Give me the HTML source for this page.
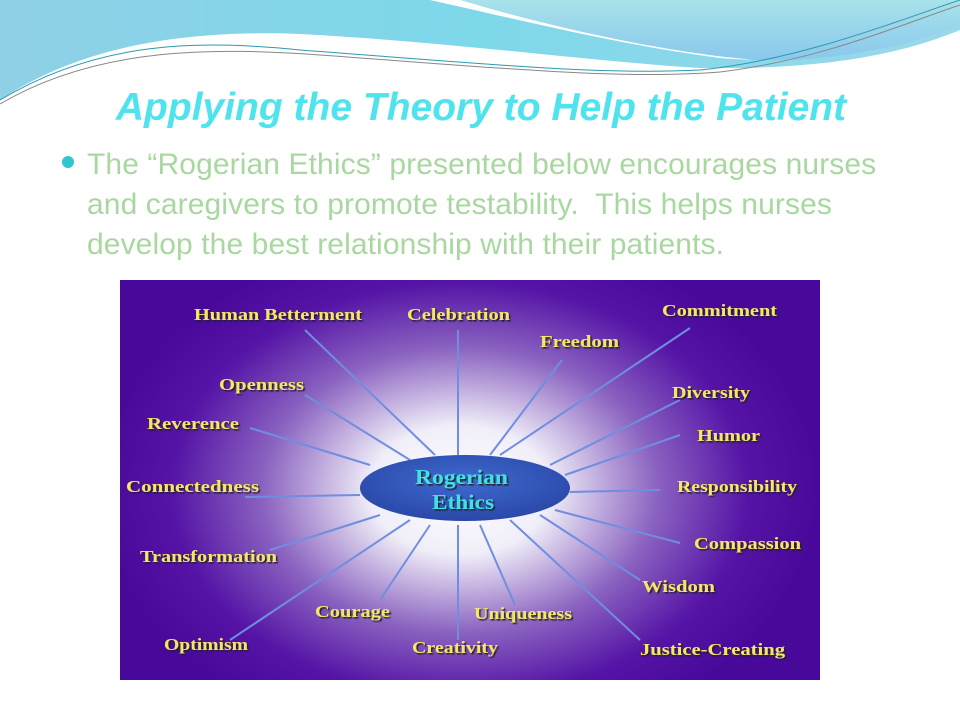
<!DOCTYPE html>
<html><head><meta charset="utf-8"><style>
body{margin:0;width:960px;height:720px;background:#fff;position:relative;overflow:hidden;font-family:"Liberation Sans",sans-serif}
.t{position:absolute;left:0;width:962px;top:86px;text-align:center;color:#4fe3ee;font-size:39px;font-weight:bold;font-style:italic}
.b{position:absolute;left:87px;top:145px;color:#a8d8a0;font-size:30px;line-height:40px;width:800px;letter-spacing:0.1px}
.dot{position:absolute;left:62px;top:156px;width:12px;height:12px;border-radius:50%;background:#2ec6cf}
</style></head><body>
<svg width="960" height="110" style="position:absolute;left:0;top:0">
<defs><linearGradient id="g1" x1="0" y1="0" x2="1" y2="0"><stop offset="0" stop-color="#8fd0e6"/><stop offset=".5" stop-color="#7dd8ea"/><stop offset="1" stop-color="#9ad8ea"/></linearGradient>
<linearGradient id="g2" x1="0" y1="0" x2="0" y2="1"><stop offset="0" stop-color="#a8e2ea"/><stop offset="1" stop-color="#8ac8ec"/></linearGradient></defs>
<path d="M0,0 H960 V30 C900,55 820,70 700,68 C600,62 450,42 300,34 C150,28 60,60 0,100 Z" fill="url(#g1)"/>
<path d="M230,0 H960 V20 C900,45 800,65 720,58 C620,45 520,20 430,0Z" fill="#fff"/>
<path d="M250,0 H960 V25 C900,50 820,62 760,60 C680,55 560,30 460,0Z" fill="url(#g2)"/>
<path d="M0,100 C100,40 200,40 300,50 C500,65 600,75 700,70 C800,60 900,20 960,0" fill="none" stroke="#2a9ab0" stroke-width="1"/>
<path d="M0,104 C100,45 220,48 320,55 C500,68 620,80 720,72 C820,60 900,25 960,5" fill="none" stroke="#888" stroke-width="1"/>
</svg>
<div class="t">Applying the Theory to Help the Patient</div>
<div class="dot"></div>
<div class="b">The “Rogerian Ethics” presented below encourages nurses and caregivers to promote testability.&nbsp; This helps nurses develop the best relationship with their patients.</div>
<svg width="700" height="400" style="position:absolute;left:120px;top:280px" viewBox="120 280 700 400">
<defs><radialGradient id="rg" cx="460" cy="490" r="360" gradientUnits="userSpaceOnUse" gradientTransform="translate(460 490) scale(1 .72) translate(-460 -490)">
<stop offset="0" stop-color="#ffffff"/><stop offset=".25" stop-color="#f0eef8"/><stop offset=".55" stop-color="#8a62c0"/><stop offset=".8" stop-color="#5514a6"/><stop offset="1" stop-color="#48089a"/></radialGradient>
<radialGradient id="eg" cx=".5" cy=".4" r=".6"><stop offset="0" stop-color="#3f6ad0"/><stop offset="1" stop-color="#2a48a8"/></radialGradient>
<filter id="sh"><feDropShadow dx="1.5" dy="1.5" stdDeviation="0.5" flood-color="#222"/></filter></defs>
<rect x="120" y="280" width="700" height="400" fill="url(#rg)"/>
<g stroke="#6f8ee0" stroke-width="2">
<line x1="305" y1="330" x2="435" y2="455"/><line x1="458" y1="330" x2="458" y2="455"/>
<line x1="562" y1="360" x2="490" y2="455"/><line x1="690" y1="328" x2="500" y2="455"/>
<line x1="680" y1="400" x2="550" y2="465"/><line x1="680" y1="435" x2="565" y2="475"/>
<line x1="660" y1="490" x2="570" y2="492"/><line x1="680" y1="543" x2="555" y2="510"/>
<line x1="640" y1="580" x2="540" y2="515"/><line x1="640" y1="640" x2="510" y2="520"/>
<line x1="515" y1="605" x2="480" y2="525"/><line x1="458" y1="640" x2="458" y2="525"/>
<line x1="380" y1="600" x2="430" y2="525"/><line x1="230" y1="640" x2="410" y2="520"/>
<line x1="270" y1="550" x2="380" y2="515"/><line x1="245" y1="497" x2="360" y2="495"/>
<line x1="250" y1="428" x2="370" y2="465"/><line x1="305" y1="395" x2="410" y2="460"/>
</g>
<ellipse cx="465" cy="488" rx="105" ry="33" fill="url(#eg)"/>
<g font-family="Liberation Serif,serif" font-weight="bold" font-size="21" fill="#3fe0e8" filter="url(#sh)" lengthAdjust="spacingAndGlyphs">
<text x="415" y="484" textLength="93" lengthAdjust="spacingAndGlyphs">Rogerian</text><text x="432" y="509" textLength="62" lengthAdjust="spacingAndGlyphs">Ethics</text></g>
<g font-family="Liberation Serif,serif" font-weight="bold" font-size="17" fill="#f4e66a" filter="url(#sh)">
<text x="194" y="320" textLength="168" lengthAdjust="spacingAndGlyphs">Human Betterment</text><text x="407" y="320" textLength="103" lengthAdjust="spacingAndGlyphs">Celebration</text>
<text x="662" y="316" textLength="115" lengthAdjust="spacingAndGlyphs">Commitment</text><text x="540" y="347" textLength="79" lengthAdjust="spacingAndGlyphs">Freedom</text>
<text x="219" y="390" textLength="85" lengthAdjust="spacingAndGlyphs">Openness</text><text x="672" y="398" textLength="78" lengthAdjust="spacingAndGlyphs">Diversity</text>
<text x="147" y="429" textLength="92" lengthAdjust="spacingAndGlyphs">Reverence</text><text x="697" y="441" textLength="63" lengthAdjust="spacingAndGlyphs">Humor</text>
<text x="126" y="492" textLength="133" lengthAdjust="spacingAndGlyphs">Connectedness</text><text x="677" y="492" textLength="120" lengthAdjust="spacingAndGlyphs">Responsibility</text>
<text x="694" y="549" textLength="107" lengthAdjust="spacingAndGlyphs">Compassion</text><text x="140" y="562" textLength="137" lengthAdjust="spacingAndGlyphs">Transformation</text>
<text x="642" y="592" textLength="73" lengthAdjust="spacingAndGlyphs">Wisdom</text><text x="315" y="617" textLength="75" lengthAdjust="spacingAndGlyphs">Courage</text>
<text x="474" y="619" textLength="98" lengthAdjust="spacingAndGlyphs">Uniqueness</text><text x="164" y="650" textLength="84" lengthAdjust="spacingAndGlyphs">Optimism</text>
<text x="412" y="653" textLength="86" lengthAdjust="spacingAndGlyphs">Creativity</text><text x="640" y="655" textLength="145" lengthAdjust="spacingAndGlyphs">Justice-Creating</text>
</g>
</svg>
</body></html>
